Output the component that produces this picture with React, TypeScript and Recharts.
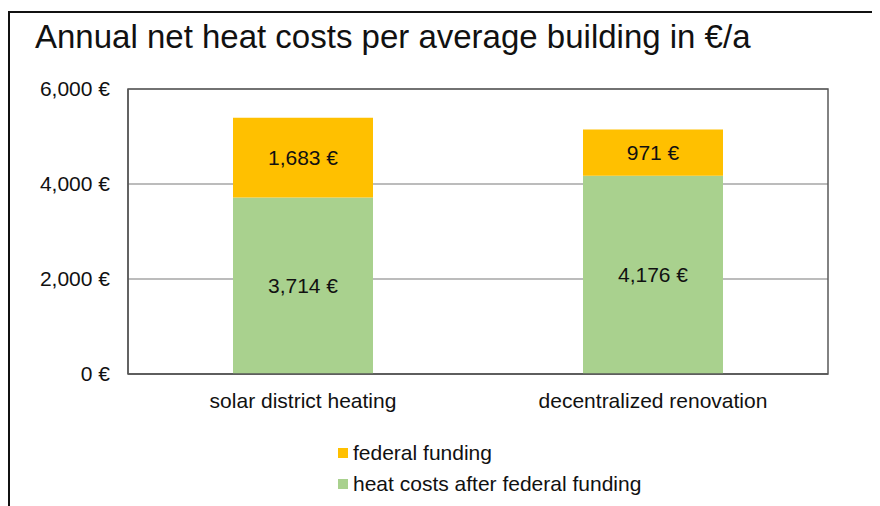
import { BarChart, Bar, XAxis, YAxis, CartesianGrid, Legend, LabelList, ReferenceArea } from 'recharts';

const categories = ['solar district heating', 'decentralized renovation'];
const heatCosts = [3714, 4176];
const federalFunding = [1683, 971];
const yTicks = [0, 2000, 4000, 6000];

const data = categories.map((name, i) => ({
  name,
  heat: heatCosts[i],
  funding: federalFunding[i],
}));

const FONT = '"Liberation Sans", Arial, sans-serif';
const fmt = (v: number) => `${Number(v).toLocaleString('en-US')} €`;

const legendItems = [
  { label: 'federal funding', color: '#FFC000' },
  { label: 'heat costs after federal funding', color: '#A9D18E' },
];

function LegendBox() {
  return (
    <div style={{ fontFamily: FONT, fontSize: 21, color: '#111' }}>
      {legendItems.map((it) => (
        <div key={it.label} style={{ display: 'flex', alignItems: 'center', height: 31 }}>
          <span style={{ width: 10, height: 10, background: it.color, marginRight: 5 }} />
          <span>{it.label}</span>
        </div>
      ))}
    </div>
  );
}

export default function App() {
  return (
    <div style={{ position: 'relative', width: 872, height: 498, background: '#fff' }}>
      <div
        style={{
          position: 'absolute',
          left: 0,
          top: 3,
          width: 880,
          height: 510,
          borderTop: '2px solid #111',
          borderLeft: '2px solid #111',
        }}
      />
      <div
        style={{
          position: 'absolute',
          left: 27,
          top: 12,
          fontFamily: FONT,
          fontSize: 33,
          lineHeight: 1,
          color: '#111',
          whiteSpace: 'nowrap',
        }}
      >
        Annual net heat costs per average building in €/a
      </div>
      <BarChart
        width={872}
        height={498}
        data={data}
        margin={{ top: 81, right: 52, bottom: 92, left: 0 }}
        barCategoryGap="30%"
        style={{ position: 'absolute', left: 0, top: 0 }}
      >
        <CartesianGrid vertical={false} stroke="#A6A6A6" strokeWidth={1.5} />
        <XAxis
          dataKey="name"
          height={40}
          tickSize={0}
          tickMargin={19}
          axisLine={{ stroke: '#595959', strokeWidth: 1.5 }}
          tick={{ fontFamily: FONT, fontSize: 21, fill: '#111' }}
        />
        <YAxis
          width={120}
          domain={[0, 6000]}
          ticks={yTicks}
          tickSize={0}
          tickMargin={18}
          tickFormatter={fmt}
          axisLine={{ stroke: '#595959', strokeWidth: 1.5 }}
          tick={{ fontFamily: FONT, fontSize: 21, fill: '#111' }}
        />
        <ReferenceArea
          x1={categories[0]}
          x2={categories[categories.length - 1]}
          y1={0}
          y2={6000}
          fill="none"
          fillOpacity={0}
          stroke="#595959"
          strokeWidth={1.5}
          strokeOpacity={1}
        />
        <Legend
          layout="vertical"
          align="center"
          verticalAlign="middle"
          content={() => <LegendBox />}
          wrapperStyle={{ position: 'absolute', left: 330, top: 429, width: 'auto' }}
        />
        <Bar dataKey="heat" stackId="a" fill="#A9D18E" isAnimationActive={false}>
          <LabelList dataKey="heat" position="center" formatter={fmt}
            style={{ fontFamily: FONT, fontSize: 21, fill: '#111' }} />
        </Bar>
        <Bar dataKey="funding" stackId="a" fill="#FFC000" isAnimationActive={false}>
          <LabelList dataKey="funding" position="center" formatter={fmt}
            style={{ fontFamily: FONT, fontSize: 21, fill: '#111' }} />
        </Bar>
      </BarChart>
    </div>
  );
}
